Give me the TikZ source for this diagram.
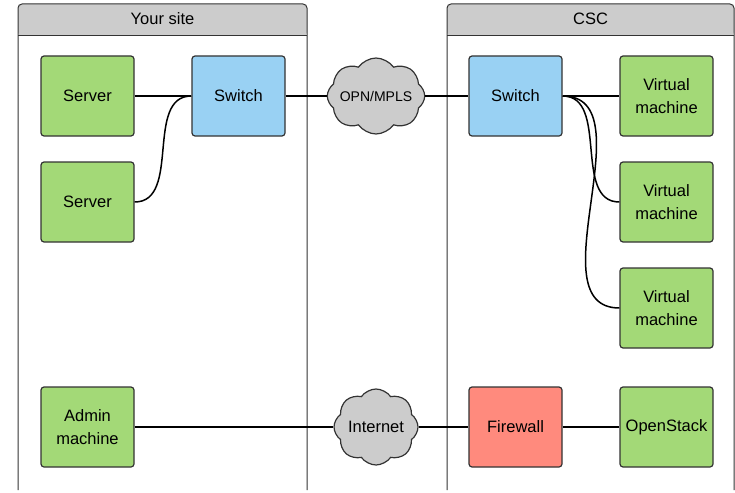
\documentclass[tikz,border=0pt]{standalone}
\usepackage{fontspec}
\setmainfont{Liberation Sans}
\usetikzlibrary{shapes.symbols}
\definecolor{hostgreen}{HTML}{A3D977}
\definecolor{switchblue}{HTML}{99D1F3}
\definecolor{wallred}{HTML}{FF8A7D}
\definecolor{edgegrey}{HTML}{333333}
\newcommand{\labelfont}{\fontsize{16.5}{23}\selectfont}
\tikzstyle{box}=[draw=edgegrey, line width=1.2pt, rounded corners=3pt, inner sep=0,
                 minimum width=93pt, minimum height=80pt, align=center, font=\labelfont]
\tikzstyle{host}=[box, fill=hostgreen]
\tikzstyle{switchbox}=[box, fill=switchblue]
\tikzstyle{wall}=[box, fill=wallred]
\tikzstyle{net}=[cloud, cloud puffs=8, cloud puff arc=110, cloud ignores aspect, draw=edgegrey,
                 line width=1.2pt, fill=gray!40, inner sep=0, minimum width=84pt,
                 minimum height=76pt, font=\labelfont]
\tikzstyle{site}=[draw=edgegrey, line width=1pt, rounded corners=4pt]
\tikzstyle{link}=[line width=1.5pt]

\begin{document}
\begin{tikzpicture}[x=1pt, y=-1pt]
    \useasboundingbox (0, 0) rectangle (735, 492);
    % the two sites
    \fill[gray!40, rounded corners=4pt] (18, 36) -- (18, 4) -- (307, 4) -- (307, 36) -- cycle;
    \fill[gray!40, rounded corners=4pt] (447, 36) -- (447, 4) -- (734, 4) -- (734, 36) -- cycle;
    \draw[site] (18, 490) -- (18, 4) -- (307, 4) -- (307, 490);
    \draw[site] (447, 490) -- (447, 4) -- (734, 4) -- (734, 490);
    \draw[edgegrey, line width=1pt] (18, 36) -- (307, 36) (447, 36) -- (734, 36);
    \node[font=\labelfont] (yoursite) at (162.5, 19) {Your site};
    \node[font=\labelfont] (csc) at (590.5, 19) {CSC};

    \node[host] (serverA) at (87.5, 96) {Server};
    \node[host] (serverB) at (87.5, 202) {Server};
    \node[host] (admin) at (87.5, 427) {Admin\\machine};
    \node[switchbox] (switchL) at (238.5, 96) {Switch};

    \node[net, font=\fontsize{14}{16}\selectfont] (opn) at (376, 96) {OPN/MPLS};
    \node[net] (inet) at (376, 427) {Internet};

    \node[switchbox] (switchR) at (515.5, 96) {Switch};
    \node[wall] (firewall) at (515.5, 427) {Firewall};
    \node[host] (vmA) at (666.5, 96) {Virtual\\machine};
    \node[host] (vmB) at (666.5, 202) {Virtual\\machine};
    \node[host] (vmC) at (666.5, 308) {Virtual\\machine};
    \node[host] (openstack) at (666.5, 427) {OpenStack};

    \draw[link] (serverA) -- (switchL);
    \draw[link] (serverB.east) to[out=0, in=180] (switchL.west);
    \draw[link] (switchL) -- (opn);
    \draw[link] (opn) -- (switchR);
    \draw[link] (switchR) -- (vmA);
    \draw[link] (switchR.east) to[out=0, in=180] (vmB.west);
    \draw[link] (switchR.east) to[out=0, in=180] (vmC.west);
    \draw[link] (admin) -- (inet);
    \draw[link] (inet) -- (firewall);
    \draw[link] (firewall) -- (openstack);
\end{tikzpicture}
\end{document}
